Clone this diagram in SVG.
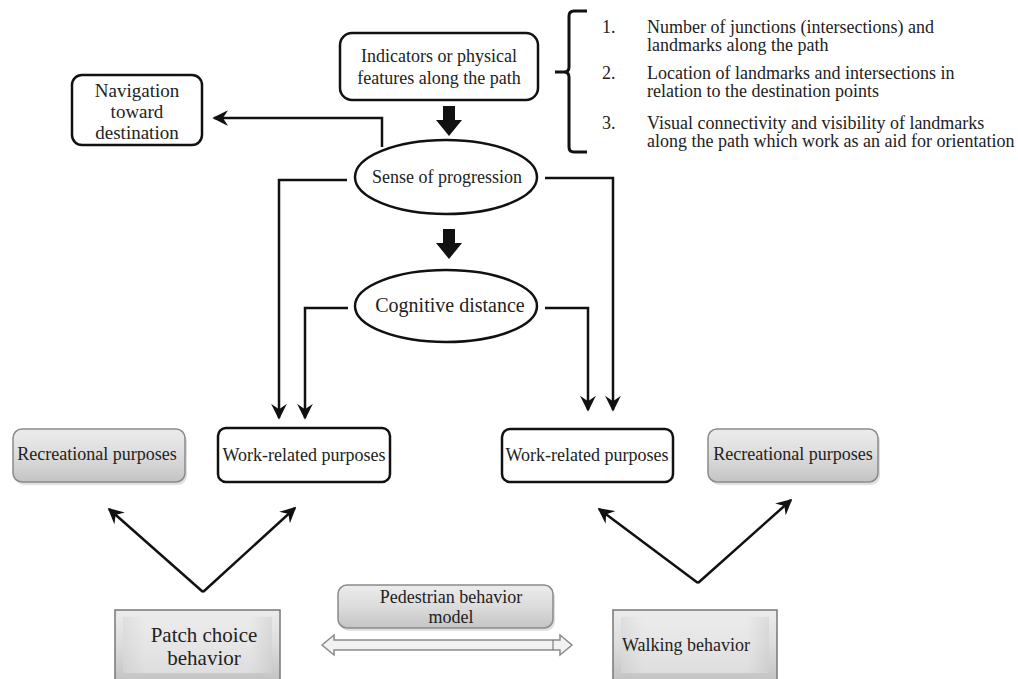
<svg xmlns="http://www.w3.org/2000/svg" width="1018" height="679" viewBox="0 0 1018 679">
<defs>
<style>
text{font-family:"Liberation Serif","Times New Roman",serif;fill:#222;}
.t18{font-size:18px;}
.t19{font-size:19px;}
.t20{font-size:20px;}
.t21{font-size:21px;}
.box{fill:#fff;stroke:#111;stroke-width:2.5;}
.gbox{fill:url(#gg);stroke:#8a8a8a;stroke-width:1.5;}
.line{fill:none;stroke:#111;stroke-width:2.5;}
.blk{fill:#111;}
.sh{fill:#000;opacity:0.12;}
</style>
<linearGradient id="gg" x1="0" y1="0" x2="0" y2="1">
<stop offset="0" stop-color="#ececec"/>
<stop offset="0.5" stop-color="#dcdcdc"/>
<stop offset="1" stop-color="#c4c4c4"/>
</linearGradient>
<linearGradient id="gh" x1="0" y1="0" x2="1" y2="0">
<stop offset="0" stop-color="#d8d8d8"/>
<stop offset="0.15" stop-color="#ececec"/>
<stop offset="0.85" stop-color="#ececec"/>
<stop offset="1" stop-color="#d0d0d0"/>
</linearGradient>
<marker id="ah" markerUnits="userSpaceOnUse" markerWidth="16" markerHeight="16" viewBox="0 0 16 16" refX="14" refY="8" orient="auto">
<path d="M2,2 L14,8 L2,14 L6,8 Z" fill="#111" stroke="#111" stroke-width="1.5" stroke-linejoin="miter"/>
</marker>
</defs>

<g id="connectors">
<path class="line" d="M382,147 V118 H214" marker-end="url(#ah)"/>
<path class="line" d="M347,180 H279 V418" marker-end="url(#ah)"/>
<path class="line" d="M545,178 H613 V410" marker-end="url(#ah)"/>
<path class="line" d="M348,308 H305 V418" marker-end="url(#ah)"/>
<path class="line" d="M545,308 H588 V410" marker-end="url(#ah)"/>
<path class="line" d="M203,592 L109,509" marker-end="url(#ah)"/>
<path class="line" d="M203,592 L295,508" marker-end="url(#ah)"/>
<path class="line" d="M698,583 L599,509" marker-end="url(#ah)"/>
<path class="line" d="M698,583 L791,500" marker-end="url(#ah)"/>
<polygon class="blk" points="443,106 455,106 455,120 462,120 449,136 436,120 443,120"/>
<polygon class="blk" points="443,229 455,229 455,243 462,243 449,259 436,243 443,243"/>
<path d="M322,645 L334,635 L334,640 L560,640 L560,635 L572,645 L560,655 L560,650 L334,650 L334,655 Z" fill="#f2f2f2" stroke="#8a8a8a" stroke-width="1.5"/>
<line x1="553" y1="640" x2="553" y2="650" stroke="#666" stroke-width="1"/>
</g>

<g id="indicators">
<rect class="box" x="340" y="33" width="198" height="67" rx="12"/>
<text class="t18" x="439" y="62" text-anchor="middle">Indicators or physical</text>
<text class="t18" x="439" y="84" text-anchor="middle">features along the path</text>
</g>

<g id="list">
<path d="M587,11 H574 Q569,11 569,16 V67 Q569,72 564,72 H555 M564,72 Q569,72 569,77 V147 Q569,152 574,152 H587" fill="none" stroke="#111" stroke-width="3"/>
<text class="t18" x="602" y="33">1.</text>
<text class="t18" x="647" y="33">Number of junctions (intersections) and</text>
<text class="t18" x="647" y="51">landmarks along the path</text>
<text class="t18" x="602" y="79">2.</text>
<text class="t18" x="647" y="79">Location of landmarks and  intersections in</text>
<text class="t18" x="647" y="97">relation to the destination points</text>
<text class="t18" x="602" y="129">3.</text>
<text class="t18" x="647" y="129">Visual connectivity and visibility of landmarks</text>
<text class="t18" x="647" y="147">along the path which work as an aid for orientation</text>
</g>

<g id="navigation">
<rect class="box" x="72" y="75" width="130" height="70" rx="10"/>
<text class="t19" x="137" y="97" text-anchor="middle">Navigation</text>
<text class="t19" x="137" y="118" text-anchor="middle">toward</text>
<text class="t19" x="137" y="139" text-anchor="middle">destination</text>
</g>

<g id="sense">
<ellipse class="box" cx="446" cy="177" rx="91" ry="37"/>
<text class="t18" x="447" y="183" text-anchor="middle">Sense of progression</text>
</g>

<g id="cognitive">
<ellipse class="box" cx="446" cy="306" rx="91" ry="36"/>
<text class="t20" x="450" y="312" text-anchor="middle">Cognitive distance</text>
</g>

<g id="rec-left">
<rect class="sh" x="15" y="432" width="172" height="53" rx="9"/>
<rect class="gbox" x="13" y="429" width="172" height="53" rx="9"/>
<text class="t18" x="97" y="460" text-anchor="middle">Recreational purposes</text>
</g>

<g id="work-left">
<rect class="box" x="218" y="428" width="172" height="54" rx="8"/>
<text class="t18" x="304" y="461" text-anchor="middle">Work-related purposes</text>
</g>

<g id="work-right">
<rect class="box" x="502" y="429" width="171" height="53" rx="8"/>
<text class="t18" x="587" y="461" text-anchor="middle">Work-related purposes</text>
</g>

<g id="rec-right">
<rect class="sh" x="710" y="432" width="170" height="53" rx="9"/>
<rect class="gbox" x="708" y="429" width="170" height="53" rx="9"/>
<text class="t18" x="793" y="460" text-anchor="middle">Recreational purposes</text>
</g>

<g id="pedestrian">
<rect class="sh" x="340" y="588" width="215" height="43" rx="9"/>
<rect class="gbox" x="338" y="585" width="215" height="43" rx="9"/>
<text class="t18" x="451" y="603" text-anchor="middle">Pedestrian behavior</text>
<text class="t18" x="451" y="623" text-anchor="middle">model</text>
</g>

<g id="patch">
<rect x="115" y="610" width="165" height="70" fill="url(#gg)" stroke="#777" stroke-width="1.5"/>
<rect x="123" y="617" width="149" height="56" fill="url(#gh)" opacity="0.6"/>
<text class="t21" x="204" y="642" text-anchor="middle">Patch choice</text>
<text class="t21" x="204" y="665" text-anchor="middle">behavior</text>
</g>

<g id="walking">
<rect x="613" y="610" width="164" height="70" fill="url(#gg)" stroke="#777" stroke-width="1.5"/>
<rect x="621" y="617" width="148" height="56" fill="url(#gh)" opacity="0.6"/>
<text class="t18" x="622" y="651">Walking behavior</text>
</g>
</svg>
